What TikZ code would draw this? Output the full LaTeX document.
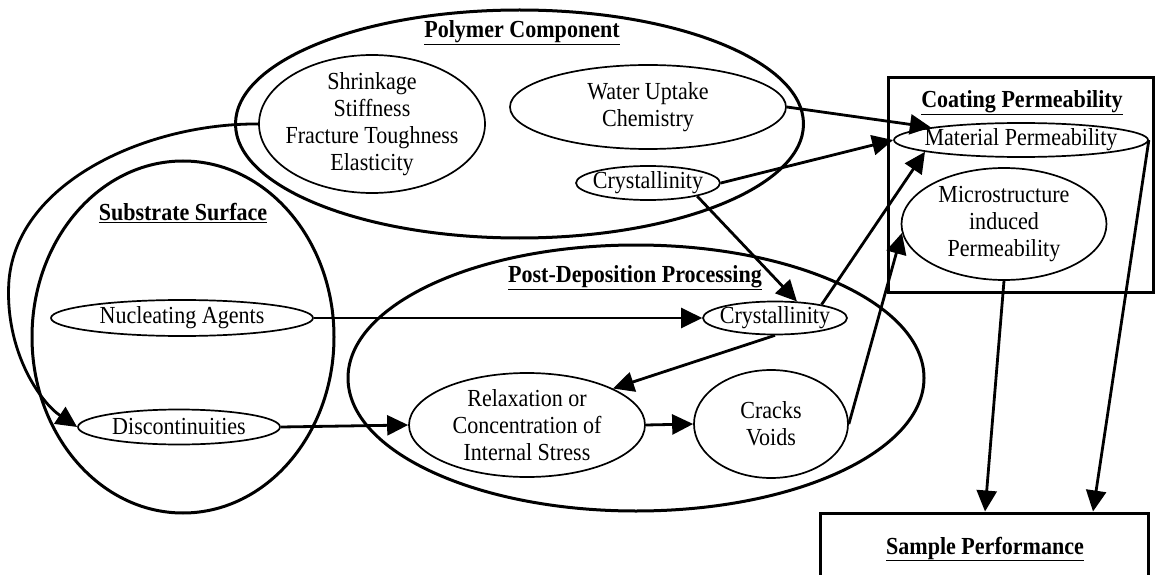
\documentclass[tikz,border=0pt]{standalone}
\usepackage{fontspec}
\setmainfont{Liberation Serif}[FakeStretch=0.9]
\usetikzlibrary{arrows.meta,shapes.geometric}
\newcommand{\fs}{\fontsize{24.5}{27.2}\selectfont}
\newcommand{\ttltext}[1]{\underline{\textbf{#1}}}
\tikzset{
  outer/.style={draw, ellipse, line width=3pt, inner sep=0pt},
  inner/.style={draw, ellipse, line width=1.7pt, inner sep=0pt},
  box/.style={draw, rectangle, line width=3pt, inner sep=0pt},
  sz/.style 2 args={minimum width=#1pt, minimum height=#2pt},
  lbl/.style={align=center, inner sep=0pt, font=\fs},
  ttl/.style={inner sep=0pt, font=\fs},
  arr/.style={line width=2.8pt, -{Triangle[length=21pt,width=20pt]}},
}
\begin{document}
\begin{tikzpicture}[x=1pt, y=-1pt]
\useasboundingbox (0,0) rectangle (1157,575);

% Polymer component
\node[outer, sz={568}{228}] (poly) at (519.5,124) {};
\node[ttl] (polyt) at (522,33) {\ttltext{Polymer Component}};
\node[inner, sz={226}{138}] (shrink) at (372,124) {};
\node[lbl] (shrinkt) at (shrink) {Shrinkage\\Stiffness\\Fracture Toughness\\Elasticity};
\node[inner, sz={276}{84}] (water) at (648,107) {};
\node[lbl] (watert) at (water) {Water Uptake\\Chemistry};
\node[inner, sz={144}{34}] (cryA) at (648,183) {};
\node[lbl] (cryAt) at (cryA) {Crystallinity};

% Substrate surface
\node[outer, sz={302}{352}] (sub) at (183,337) {};
\node[ttl] (subt) at (183,213) {\ttltext{Substrate Surface}};
\node[inner, sz={262}{36}] (nucl) at (182,318) {};
\node[lbl] (nuclt) at (nucl) {Nucleating Agents};
\node[inner, sz={202}{35}] (disc) at (179,427) {};
\node[lbl] (disct) at (disc) {Discontinuities};

% Post-deposition processing
\node[outer, sz={576}{266}] (post) at (636,378) {};
\node[ttl] (postt) at (635,278) {\ttltext{Post-Deposition Processing}};
\node[inner, sz={144}{33}] (cryB) at (775,318) {};
\node[lbl] (cryBt) at (cryB) {Crystallinity};
\node[inner, sz={236}{104}] (relax) at (527,425) {};
\node[lbl] (relaxt) at (relax) {Relaxation or\\Concentration of\\Internal Stress};
\node[inner, sz={154}{108}] (cracks) at (771,424) {};
\node[lbl] (crackst) at (cracks) {Cracks\\Voids};

% Coating permeability
\node[box, sz={265}{214}] (coat) at (1020.5,185) {};
\node[ttl] (coatt) at (1022,103) {\ttltext{Coating Permeability}};
\node[inner, sz={254}{34}] (matp) at (1021,140) {};
\node[lbl] (matpt) at (matp) {Material Permeability};
\node[inner, sz={205}{112}] (micro) at (1004,224) {};
\node[lbl] (microt) at (micro) {Microstructure\\induced\\Permeability};

% Sample performance
\node[box, sz={328}{100}] (sample) at (984,563) {};
\node[ttl] (samplet) at (985,549) {\ttltext{Sample Performance}};

% Connectors
\draw[arr] (shrink.west) .. controls (150,123) and (18,180) .. (9,280)
           .. controls (4,350) and (40,402) .. (disc.west);
\draw[arr] (water.east) -- (matp.172);
\draw[arr] (cryA.east) -- (matp.west);
\draw[arr] (cryA.-15) -- (cryB.37);
\draw[arr] (nucl.east) -- (cryB.west);
\draw[arr] (disc.east) -- (relax.west);
\draw[arr] (relax.east) -- (cracks.west);
\draw[arr] (cryB.south) -- (relax.23);
\draw[arr] (cryB.16) -- (matp.187);
\draw[arr] (cracks.east) -- (micro.185);
\draw[arr] (micro.south) -- ([xshift=1pt]sample.north);
\draw[arr] (matp.east) -- ([xshift=109pt]sample.north);
\end{tikzpicture}
\end{document}
